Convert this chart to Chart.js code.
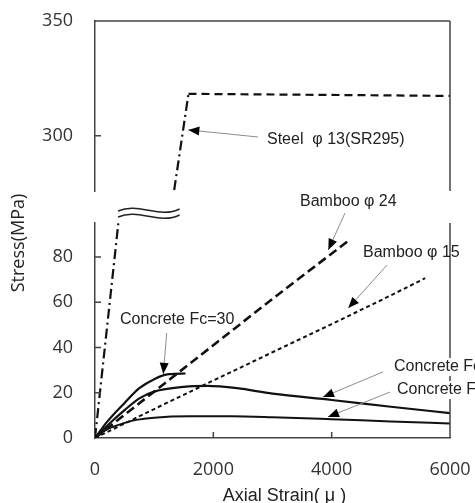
<!DOCTYPE html>
<html>
<head>
  <title>Stress - Axial Strain</title>
  <script src="https://cdn.jsdelivr.net/npm/chart.js"></script>
  <style>
    body { margin: 0; background: #fff; }
    .wrap { position: relative; width: 475px; height: 503px; }
    .wrap canvas { position: absolute; left: 0; top: 0; }
  </style>
</head>
<body>
  <div class="wrap">
    <canvas id="lowChart" width="475" height="503"></canvas>
    <canvas id="topChart" width="475" height="503"></canvas>
  </div>

  <script>
    // strain in micro, stress in MPa
    var strainFc30 = [0, 200, 500, 750, 1000, 1250, 1530];
    var stressFc30 = [0, 7, 15.5, 22, 26, 28.2, 28.5];

    var strainFcMid = [0, 250, 500, 750, 1000, 1500, 1900, 2400, 3000, 4000, 5000, 6000];
    var stressFcMid = [0, 6.5, 12.3, 17.5, 20.5, 22.6, 23, 22, 19.6, 16.8, 13.8, 11];

    var strainFcLow = [0, 200, 400, 700, 1000, 1600, 2300, 3000, 4000, 5000, 6000];
    var stressFcLow = [0, 3.8, 5.8, 8, 9, 9.6, 9.6, 9.2, 8.3, 7.3, 6.4];

    var strainB24 = [0, 1000, 2000, 3000, 4300];
    var stressB24 = [0, 20.5, 41, 61.5, 87.5];

    var strainB15 = [0, 1000, 2000, 3000, 4000, 5000, 5580];
    var stressB15 = [0, 12.8, 25.4, 37.9, 50.3, 63, 70.6];

    var strainSteel = [0, 395, 1336, 1580, 6000];
    var stressSteel = [0, 95, 276, 318.3, 317.4];

    var xTicks = [0, 2000, 4000, 6000];
    var yLowTicks = [0, 20, 40, 60, 80];
    var yTopTicks = [300, 350];

    function pts(xs, ys) {
      return xs.map(function (x, i) { return { x: x, y: ys[i] }; });
    }

    var tickFont = { family: '"Open Sans", "Noto Sans", sans-serif', size: 18 };
    var noteFont = '16px "Liberation Sans", Arial, sans-serif';
    var plainNum = function (v) { return String(v); };

    // fixed axis size, and no extra room for labels that overhang the ends
    function fitY(s) { s.width = 95; s.paddingTop = 0; s.paddingBottom = 0; }
    function fitX(s) { s.height = 65; s.paddingLeft = 0; s.paddingRight = 0; }

    // right / top frame lines and the small inner tick marks
    var framePlugin = {
      id: 'frame',
      afterDatasetsDraw: function (chart, args, opts) {
        var a = chart.chartArea, c = chart.ctx;
        var xs = chart.scales.x, ys = chart.scales.y;
        c.save();
        c.strokeStyle = '#444';
        c.lineWidth = 1.5;
        c.beginPath();
        if (opts.top) { c.moveTo(a.left, a.top); c.lineTo(a.right, a.top); }
        c.moveTo(a.right, a.top); c.lineTo(a.right, a.bottom);
        opts.yTicks.forEach(function (v) {
          var y = ys.getPixelForValue(v);
          c.moveTo(a.left, y); c.lineTo(a.left + 6, y);
        });
        opts.xTicks.forEach(function (v) {
          var x = xs.getPixelForValue(v);
          c.moveTo(x, a.bottom); c.lineTo(x, a.bottom - 6);
        });
        c.stroke();
        c.restore();
      }
    };

    // leader lines with arrow heads and their labels
    var notePlugin = {
      id: 'notes',
      afterDraw: function (chart, args, opts) {
        var c = chart.ctx, xs = chart.scales.x, ys = chart.scales.y;
        c.save();
        (opts.items || []).forEach(function (n) {
          var fx = xs.getPixelForValue(n.from[0]), fy = ys.getPixelForValue(n.from[1]);
          var tx = xs.getPixelForValue(n.tip[0]), ty = ys.getPixelForValue(n.tip[1]);
          var ang = Math.atan2(ty - fy, tx - fx);
          c.strokeStyle = '#8c8c8c';
          c.lineWidth = 1;
          c.beginPath(); c.moveTo(fx, fy); c.lineTo(tx, ty); c.stroke();
          c.fillStyle = '#000';
          c.beginPath();
          c.moveTo(tx, ty);
          c.lineTo(tx - 11 * Math.cos(ang) + 4.5 * Math.sin(ang), ty - 11 * Math.sin(ang) - 4.5 * Math.cos(ang));
          c.lineTo(tx - 11 * Math.cos(ang) - 4.5 * Math.sin(ang), ty - 11 * Math.sin(ang) + 4.5 * Math.cos(ang));
          c.closePath();
          c.fill();

          var px = xs.getPixelForValue(n.at[0]), py = ys.getPixelForValue(n.at[1]);
          c.font = noteFont;
          c.textAlign = 'left';
          c.textBaseline = 'middle';
          if (n.bg) {
            c.fillStyle = '#fff';
            c.fillRect(px - 1, py - 9, c.measureText(n.text).width + 2, 18);
          }
          c.fillStyle = '#222';
          c.fillText(n.text, px, py);
        });
        c.restore();
      }
    };

    // axis titles and the axis break mark
    var extrasPlugin = {
      id: 'extras',
      afterDraw: function (chart, args, opts) {
        if (!opts.show) return;
        var c = chart.ctx, a = chart.chartArea, xs = chart.scales.x;
        c.save();
        c.fillStyle = '#222';
        c.textAlign = 'center';
        c.textBaseline = 'middle';
        c.font = '18px "Liberation Sans", Arial, sans-serif';
        c.fillText('Axial Strain( \u03bc )', (a.left + a.right) / 2 + 12, chart.height - 7);

        c.font = '18px "Open Sans", "Noto Sans", sans-serif';
        c.translate(19, a.top + 20);
        c.rotate(-Math.PI / 2);
        c.fillText('Stress(MPa)', 0, 0);
        c.restore();

        c.save();
        var x0 = xs.getPixelForValue(opts.breakFrom), x1 = xs.getPixelForValue(opts.breakTo);
        var w = x1 - x0;
        c.strokeStyle = '#222';
        c.lineWidth = 1.5;
        [a.top - 13, a.top - 7].forEach(function (y) {
          c.beginPath();
          c.moveTo(x0, y + 1);
          c.bezierCurveTo(x0 + w / 3, y - 8, x0 + 2 * w / 3, y + 9, x1, y - 1);
          c.stroke();
        });
        c.restore();
      }
    };

    function fixTicks(list) {
      return function (scale) {
        scale.ticks = list.map(function (v) { return { value: v }; });
      };
    }

    var steelDash = function (ctx) {
      return ctx.p0DataIndex >= 3 ? [8, 5] : [10, 4, 2, 4];
    };

    var steelSet = {
      label: 'Steel \u03c6 13(SR295)',
      data: pts(strainSteel, stressSteel),
      borderColor: '#111',
      borderWidth: 2.2,
      segment: { borderDash: steelDash },
      pointRadius: 0,
      showLine: true,
      tension: 0
    };

    var lowCtx = document.getElementById('lowChart').getContext('2d');
    var lowChart = new Chart(lowCtx, {
      type: 'scatter',
      data: {
        datasets: [
          { label: 'Concrete Fc=30', data: pts(strainFc30, stressFc30), borderColor: '#111', borderWidth: 2.2,
            pointRadius: 0, showLine: true, cubicInterpolationMode: 'monotone' },
          { label: 'Concrete Fc=24', data: pts(strainFcMid, stressFcMid), borderColor: '#111', borderWidth: 2.2,
            pointRadius: 0, showLine: true, cubicInterpolationMode: 'monotone' },
          { label: 'Concrete Fc=10', data: pts(strainFcLow, stressFcLow), borderColor: '#111', borderWidth: 2,
            pointRadius: 0, showLine: true, cubicInterpolationMode: 'monotone' },
          { label: 'Bamboo \u03c6 24', data: pts(strainB24, stressB24), borderColor: '#111', borderWidth: 2.6,
            borderDash: [9, 4.5], pointRadius: 0, showLine: true, tension: 0 },
          { label: 'Bamboo \u03c6 15', data: pts(strainB15, stressB15), borderColor: '#111', borderWidth: 2,
            borderDash: [4, 3], pointRadius: 0, showLine: true, tension: 0 },
          steelSet
        ]
      },
      options: {
        responsive: false,
        animation: false,
        layout: { padding: { top: 223, right: 25, left: 0, bottom: 0 } },
        scales: {
          x: {
            type: 'linear', min: 0, max: 6000,
            afterFit: fitX,
            afterBuildTicks: fixTicks(xTicks),
            grid: { display: false, drawTicks: false },
            border: { display: true, color: '#444', width: 1.5 },
            ticks: { font: tickFont, color: '#333', padding: 21, maxRotation: 0, callback: plainNum }
          },
          y: {
            type: 'linear', min: 0, max: 95,
            afterFit: fitY,
            afterBuildTicks: fixTicks(yLowTicks),
            grid: { display: false, drawTicks: false },
            border: { display: true, color: '#444', width: 1.5 },
            ticks: { font: tickFont, color: '#333', padding: 22, callback: plainNum }
          }
        },
        plugins: {
          legend: { display: false },
          tooltip: { enabled: false },
          frame: { top: false, yTicks: [20, 40, 60, 80], xTicks: [2000, 4000] },
          notes: {
            items: [
              { text: 'Bamboo \u03c6 24', at: [3465, 104.3], from: [4225, 99.4], tip: [3943, 83.1] },
              { text: 'Bamboo \u03c6 15', at: [4530, 81.8], from: [4935, 76.4], tip: [4281, 57.4] },
              { text: 'Concrete Fc=30', at: [423, 52.1], from: [1212, 46.4], tip: [1154, 28.3] },
              { text: 'Concrete Fc=24', at: [5053, 31.4], from: [4868, 29.2], tip: [3854, 18.1], bg: true },
              { text: 'Concrete Fc=10', at: [5104, 21.2], from: [4986, 20.3], tip: [3938, 9.3], bg: true }
            ]
          },
          extras: { show: true, breakFrom: 390, breakTo: 1430 }
        }
      },
      plugins: [framePlugin, notePlugin, extrasPlugin]
    });

    var topCtx = document.getElementById('topChart').getContext('2d');
    var topChart = new Chart(topCtx, {
      type: 'scatter',
      data: { datasets: [steelSet] },
      options: {
        responsive: false,
        animation: false,
        layout: { padding: { top: 21, right: 25, left: 0, bottom: 312 } },
        scales: {
          x: { type: 'linear', min: 0, max: 6000, display: false },
          y: {
            type: 'linear', min: 276, max: 350,
            afterFit: fitY,
            afterBuildTicks: fixTicks(yTopTicks),
            grid: { display: false, drawTicks: false },
            border: { display: true, color: '#444', width: 1.5 },
            ticks: { font: tickFont, color: '#333', padding: 22, callback: plainNum }
          }
        },
        plugins: {
          legend: { display: false },
          tooltip: { enabled: false },
          frame: { top: true, yTicks: [300], xTicks: [] },
          notes: {
            items: [
              { text: 'Steel  \u03c6 13(SR295)', at: [2907, 298.2], from: [2755, 299.5], tip: [1577, 302.6] }
            ]
          }
        }
      },
      plugins: [framePlugin, notePlugin]
    });
  </script>
</body>
</html>
